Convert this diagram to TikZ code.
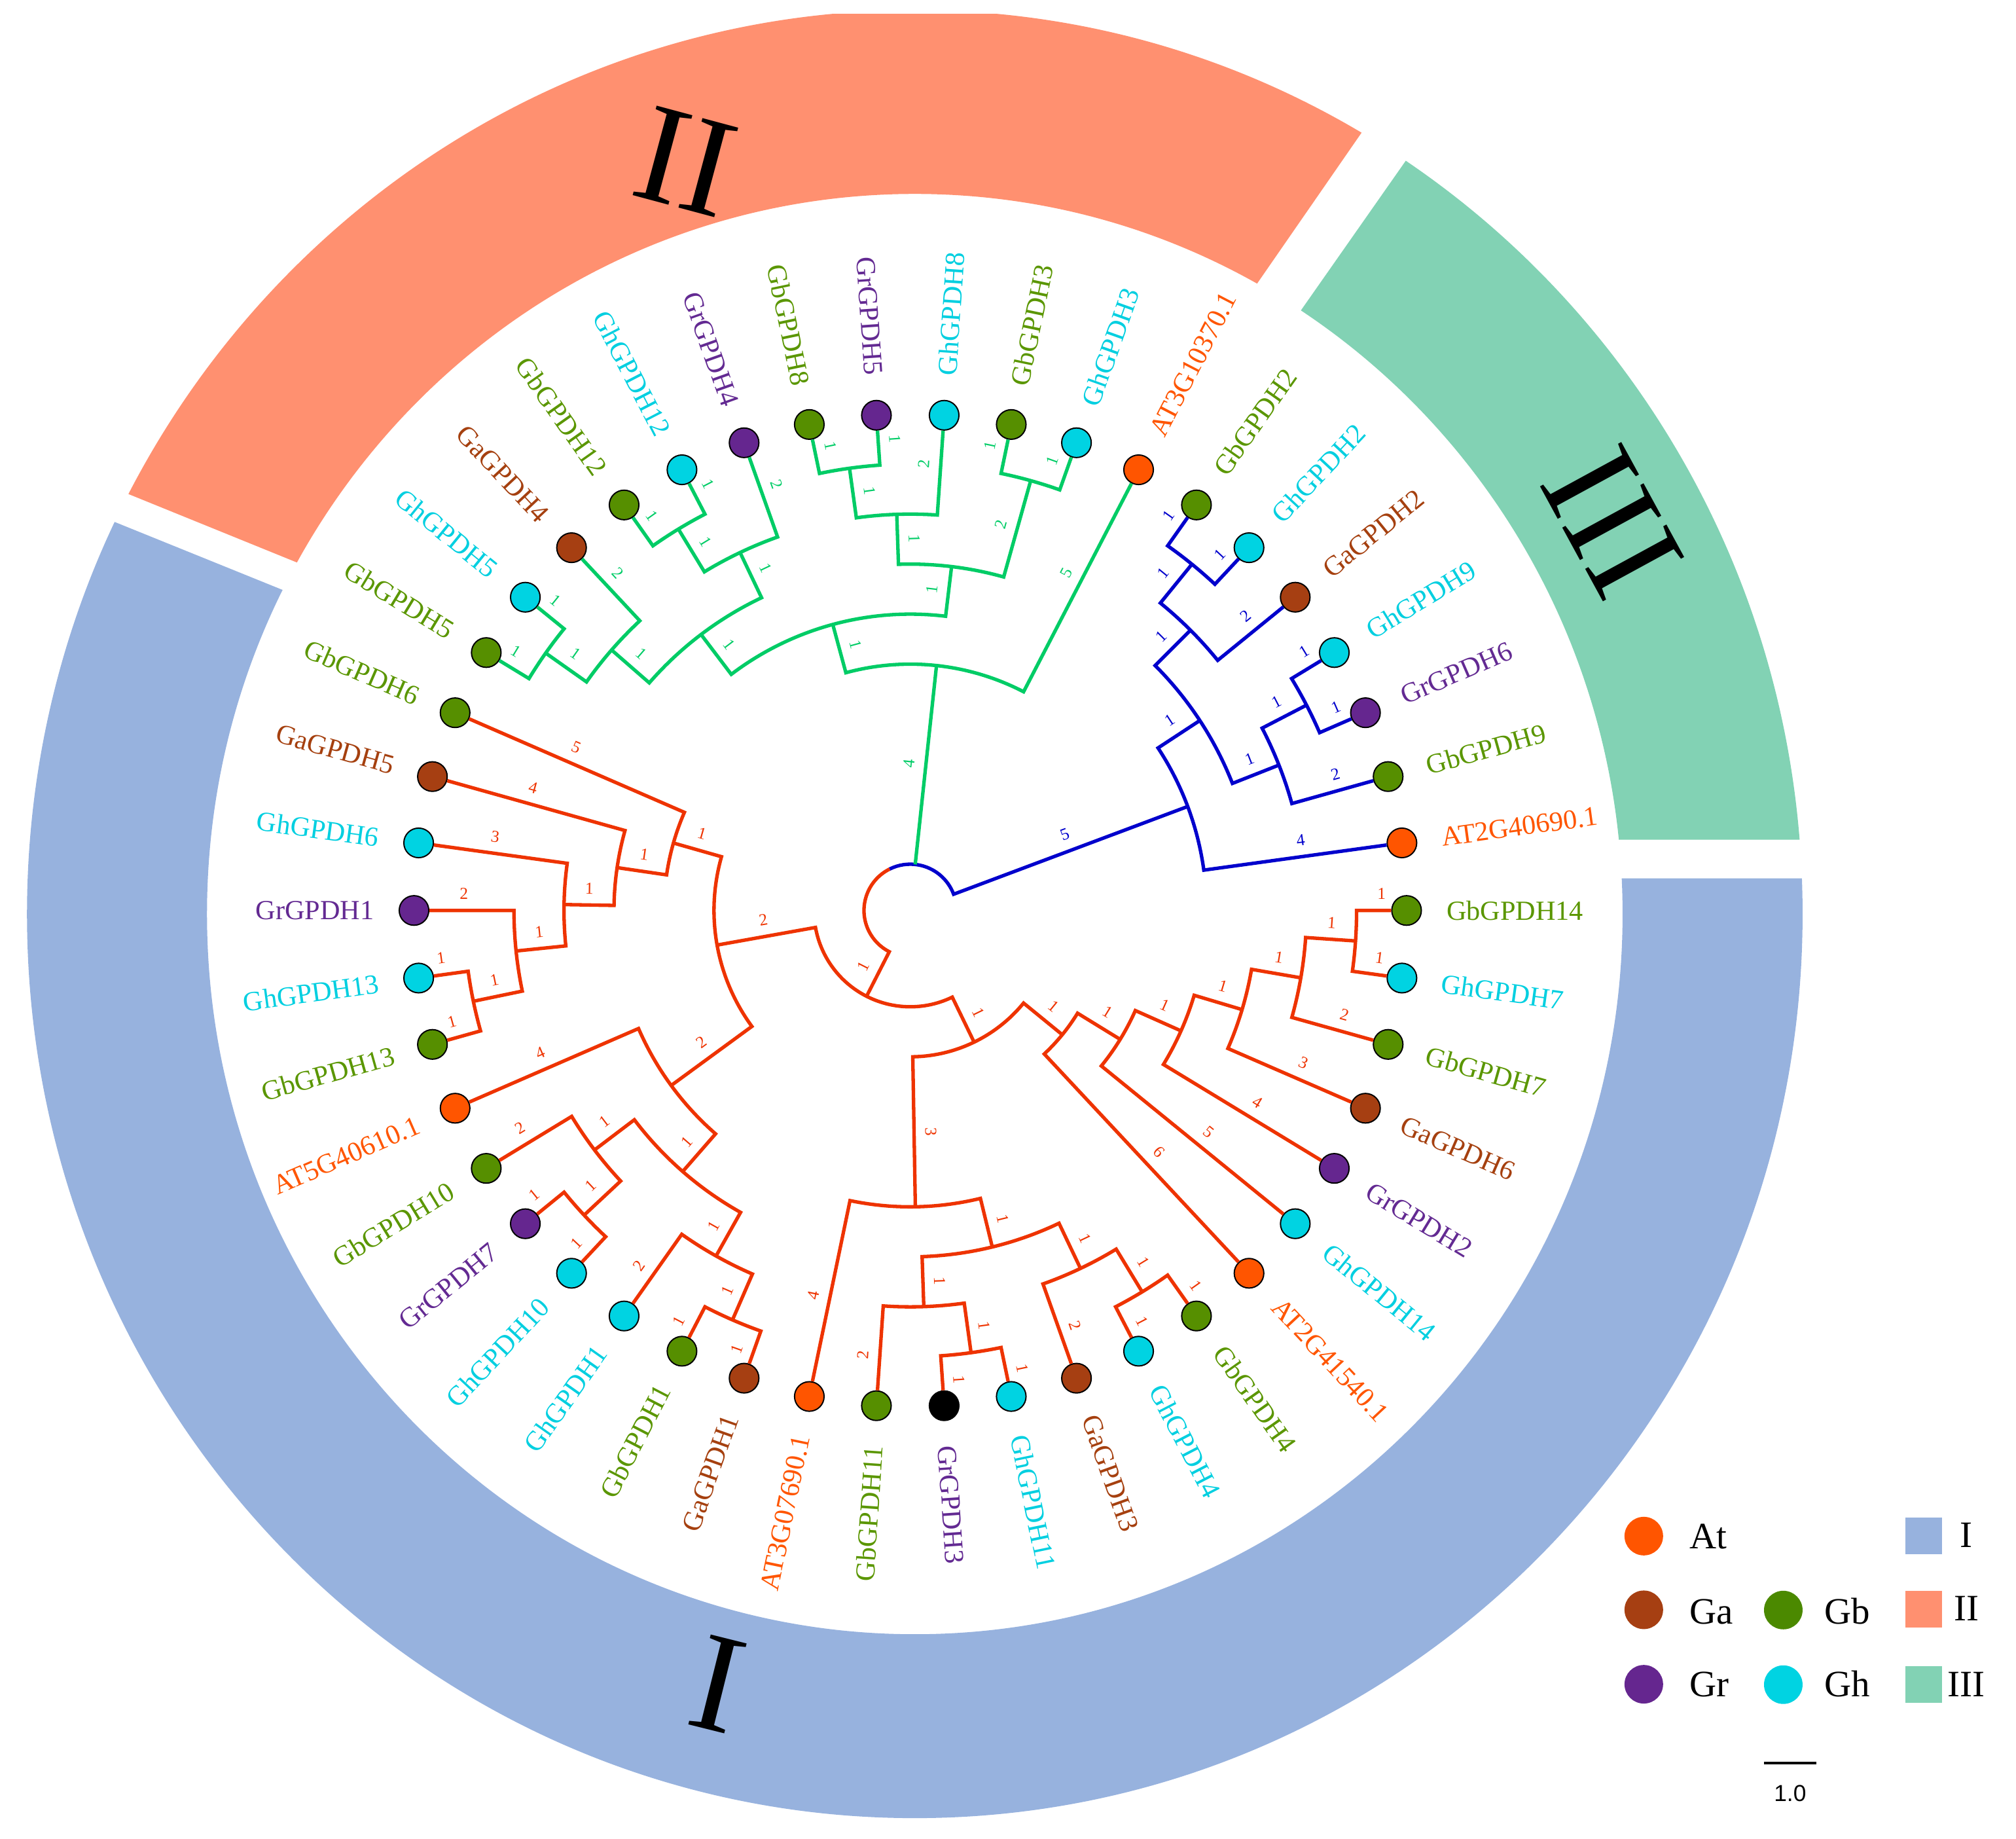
\documentclass[tikz,border=0pt]{standalone}
\usepackage{fontspec}
\setmainfont{Liberation Serif}
\newfontfamily\arialf{Liberation Sans}
\usetikzlibrary{calc}
\definecolor{brR}{HTML}{EE3300}
\definecolor{brG}{HTML}{00CC66}
\definecolor{brB}{HTML}{0000CC}
\definecolor{fAt}{HTML}{FF5500}
\definecolor{fGa}{HTML}{A63F12}
\definecolor{fGb}{HTML}{568F00}
\definecolor{fGr}{HTML}{65268F}
\definecolor{fGh}{HTML}{00D3E2}
\definecolor{fGrK}{HTML}{000000}
\definecolor{tAt}{HTML}{FF5500}
\definecolor{tGa}{HTML}{A5400F}
\definecolor{tGb}{HTML}{5A9600}
\definecolor{tGr}{HTML}{632A92}
\definecolor{tGh}{HTML}{00CFE0}
\definecolor{tGrK}{HTML}{632A92}
\definecolor{ringI}{HTML}{97B2DE}
\definecolor{ringII}{HTML}{FF9070}
\definecolor{ringIII}{HTML}{82D2B4}
\definecolor{kGb}{HTML}{4B8900}
\tikzset{
 br/.style={line width=2.7pt, line join=miter},
 leaf/.style={circle, draw=black, line width=1pt, minimum size=23pt, inner sep=0pt},
 lab/.style={font=\fontsize{21.5}{22}\selectfont, inner sep=0pt},
 bl/.style={font=\fontsize{13}{13}\selectfont, inner sep=0pt},
 ringlab/.style={font=\fontsize{110}{110}\selectfont, inner sep=0pt},
 legtxt/.style={font=\fontsize{29}{29}\selectfont, anchor=base west, inner sep=0pt},
 legdot/.style={circle, minimum size=30pt, inner sep=0pt},
 legsq/.style={minimum size=28.5pt, inner sep=0pt},
}
\newcommand\tn[6]{\draw[br,#1] (#2) -- (#3:#6) arc[start angle=#3, end angle=#5, radius=#6] -- (#4);}
\newcounter{blc}
\newcommand\el[4]{%
 \pgfmathsetmacro\elr{36+38.89*(#3+#4)/2}%
 \pgfmathtruncatemacro\ell{#4-#3}%
 \pgfmathsetmacro\elc{cos(#2)}%
 \ifdim\elc pt>0pt \pgfmathsetmacro\elrot{#2}\pgfmathsetmacro\eloff{#2+90}%
 \else \pgfmathsetmacro\elrot{#2+180}\pgfmathsetmacro\eloff{#2-90}\fi
 \stepcounter{blc}%
 \path (#2:\elr) ++(\eloff:13) node[bl,text=#1,rotate=\elrot,name=bl\theblc] {\ell};}
\begin{document}
\begin{tikzpicture}[x=1pt,y=1pt]
\useasboundingbox (-708,-722) rectangle (860,708);
% ---------- ring ----------
\coordinate (rc) at (3.5,-2.8);
\coordinate (g12a) at (-611,325);
\coordinate (g12b) at (-478,271);
\coordinate (g12c) at (-621,303);
\coordinate (g12d) at (-490,250);
\coordinate (g23a) at (351.6,605.7);
\coordinate (g23b) at (271,489.3);
\coordinate (g23c) at (381.6,577.6);
\coordinate (g23d) at (302,464);
\coordinate (g31a) at (695,55);
\coordinate (g31b) at (554,55);
\coordinate (g31c) at (695,25);
\coordinate (g31d) at (554,25);
\begin{scope}
\clip (-708,-722) rectangle (860,697);
\begin{scope}
\clip ($(g31d)!-1.5!(g31c)$) -- ($(g31d)!5!(g31c)$) -- (-45:2500) -- (-135:2500) -- (180:2500) -- ($(g12d)!5!(g12c)$) -- ($(g12d)!-1.5!(g12c)$) -- (0,0) -- cycle;
\fill[ringI, even odd rule] (rc) ellipse [x radius=690.5pt, y radius=703pt] (rc) ellipse [x radius=550.5pt, y radius=560pt];
\end{scope}
\begin{scope}
\clip ($(g23b)!-1.5!(g23a)$) -- ($(g23b)!5!(g23a)$) -- (100:2500) -- ($(g12b)!5!(g12a)$) -- ($(g12b)!-1.5!(g12a)$) -- (0,0) -- cycle;
\fill[ringII, even odd rule] (rc) ellipse [x radius=690.5pt, y radius=703pt] (rc) ellipse [x radius=550.5pt, y radius=560pt];
\end{scope}
\begin{scope}
\clip ($(g31b)!-1.5!(g31a)$) -- ($(g31b)!5!(g31a)$) -- (30:2500) -- ($(g23d)!5!(g23c)$) -- ($(g23d)!-1.5!(g23c)$) -- (0,0) -- cycle;
\fill[ringIII, even odd rule] (rc) ellipse [x radius=690.5pt, y radius=703pt] (rc) ellipse [x radius=550.5pt, y radius=560pt];
\end{scope}
\end{scope}
\node[ringlab, rotate=-14] (labI) at (-104:620) {I};
\node[ringlab, rotate=-15] (labII) at (-174.6,582.2) {II};
\node[ringlab, rotate=-61.4] (labIII) at (546,302) {III};
% ---------- leaves ----------
\foreach \i/\nm/\spc in {0/GbGPDH14/Gb, 1/GhGPDH7/Gh, 2/GbGPDH7/Gb, 3/GaGPDH6/Ga, 4/GrGPDH2/Gr, 5/GhGPDH14/Gh, 6/AT2G41540.1/At, 7/GbGPDH4/Gb, 8/GhGPDH4/Gh, 9/GaGPDH3/Ga, 10/GhGPDH11/Gh, 11/GrGPDH3/GrK, 12/GbGPDH11/Gb, 13/AT3G07690.1/At, 14/GaGPDH1/Ga, 15/GbGPDH1/Gb, 16/GhGPDH1/Gh, 17/GhGPDH10/Gh, 18/GrGPDH7/Gr, 19/GbGPDH10/Gb, 20/AT5G40610.1/At, 21/GbGPDH13/Gb, 22/GhGPDH13/Gh, 23/GrGPDH1/Gr, 24/GhGPDH6/Gh, 25/GaGPDH5/Ga, 26/GbGPDH6/Gb, 27/GbGPDH5/Gb, 28/GhGPDH5/Gh, 29/GaGPDH4/Ga, 30/GbGPDH12/Gb, 31/GhGPDH12/Gh, 32/GrGPDH4/Gr, 33/GbGPDH8/Gb, 34/GrGPDH5/Gr, 35/GhGPDH8/Gh, 36/GbGPDH3/Gb, 37/GhGPDH3/Gh, 38/AT3G10370.1/At, 39/GbGPDH2/Gb, 40/GhGPDH2/Gh, 41/GaGPDH2/Ga, 42/GhGPDH9/Gh, 43/GrGPDH6/Gr, 44/GbGPDH9/Gb, 45/AT2G40690.1/At}{%
  \pgfmathsetmacro\ang{-360/46*\i}%
  \pgfmathsetmacro\lc{cos(\ang)}%
  \node[leaf, fill=f\spc] (L\i) at (\ang:386) {};
  \ifdim\lc pt>0pt
    \node[lab, text=t\spc, anchor=west, rotate=\ang] (T\i) at (\ang:417) {\nm};
  \else
    \pgfmathsetmacro\angb{\ang+180}%
    \node[lab, text=t\spc, anchor=east, rotate=\angb] (T\i) at (\ang:417) {\nm};
  \fi
}
% ---------- internal nodes ----------
\coordinate (s1) at (-3.913:347.12);
\coordinate (s2) at (-9.783:308.23);
\coordinate (s3) at (-16.630:269.34);
\coordinate (s4) at (-23.967:230.45);
\coordinate (s5) at (-31.549:191.56);
\coordinate (s6) at (-39.253:152.67);
\coordinate (rK) at (-58.696:347.12);
\coordinate (rJ) at (-64.565:308.23);
\coordinate (rI) at (-82.174:347.12);
\coordinate (rH) at (-88.044:308.23);
\coordinate (rG) at (-76.304:269.34);
\coordinate (rE) at (-89.022:230.45);
\coordinate (rD) at (-64.138:113.78);
\coordinate (rQ) at (-113.478:347.12);
\coordinate (rP) at (-119.348:308.23);
\coordinate (rO) at (-136.957:347.12);
\coordinate (rN) at (-142.826:308.23);
\coordinate (rM) at (-131.087:269.34);
\coordinate (rB) at (-143.804:230.45);
\coordinate (r1) at (-168.261:347.12);
\coordinate (r2) at (-174.130:308.23);
\coordinate (r3) at (-180.978:269.34);
\coordinate (r4) at (-188.315:230.45);
\coordinate (r5) at (-195.897:191.56);
\coordinate (rA) at (-169.850:152.67);
\coordinate (rR) at (-116.994:74.89);
\coordinate (g1) at (144.783:347.12);
\coordinate (g2) at (138.913:308.23);
\coordinate (g3) at (121.304:347.12);
\coordinate (g4) at (115.435:308.23);
\coordinate (g5) at (127.174:269.34);
\coordinate (g7) at (97.826:347.12);
\coordinate (g8) at (91.957:308.23);
\coordinate (g9) at (74.348:347.12);
\coordinate (g10) at (83.152:269.34);
\coordinate (g6) at (105.163:230.45);
\coordinate (gR) at (83.886:191.56);
\coordinate (b1) at (50.870:347.12);
\coordinate (b2) at (45.0:308.23);
\coordinate (b3) at (27.391:347.12);
\coordinate (b4) at (21.522:308.23);
\coordinate (b5) at (33.261:269.34);
\coordinate (bR) at (20.543:230.45);
% red clade
\tn{brR}{L0}{0}{L1}{-7.826}{347.12pt}
\tn{brR}{s1}{-3.913}{L2}{-15.652}{308.23pt}
\tn{brR}{s2}{-9.783}{L3}{-23.478}{269.34pt}
\tn{brR}{s3}{-16.630}{L4}{-31.304}{230.45pt}
\tn{brR}{s4}{-23.967}{L5}{-39.130}{191.56pt}
\tn{brR}{s5}{-31.549}{L6}{-46.957}{152.67pt}
\tn{brR}{L7}{-54.783}{L8}{-62.609}{347.12pt}
\tn{brR}{rK}{-58.696}{L9}{-70.435}{308.23pt}
\tn{brR}{L10}{-78.261}{L11}{-86.087}{347.12pt}
\tn{brR}{rI}{-82.174}{L12}{-93.913}{308.23pt}
\tn{brR}{rJ}{-64.565}{rH}{-88.044}{269.34pt}
\tn{brR}{rG}{-76.304}{L13}{-101.739}{230.45pt}
\tn{brR}{s6}{-39.253}{rE}{-89.022}{113.78pt}
\tn{brR}{L14}{-109.565}{L15}{-117.391}{347.12pt}
\tn{brR}{rQ}{-113.478}{L16}{-125.217}{308.23pt}
\tn{brR}{L17}{-133.043}{L18}{-140.870}{347.12pt}
\tn{brR}{rO}{-136.957}{L19}{-148.696}{308.23pt}
\tn{brR}{rP}{-119.348}{rN}{-142.826}{269.34pt}
\tn{brR}{rM}{-131.087}{L20}{-156.522}{230.45pt}
\tn{brR}{L21}{-164.348}{L22}{-172.174}{347.12pt}
\tn{brR}{r1}{-168.261}{L23}{-180}{308.23pt}
\tn{brR}{r2}{-174.130}{L24}{-187.826}{269.34pt}
\tn{brR}{r3}{-180.978}{L25}{-195.652}{230.45pt}
\tn{brR}{r4}{-188.315}{L26}{-203.478}{191.56pt}
\tn{brR}{rB}{-143.804}{r5}{-195.897}{152.67pt}
\tn{brR}{rD}{-64.138}{rA}{-169.850}{74.89pt}
% green clade
\tn{brG}{L27}{148.696}{L28}{140.870}{347.12pt}
\tn{brG}{g1}{144.783}{L29}{133.043}{308.23pt}
\tn{brG}{L30}{125.217}{L31}{117.391}{347.12pt}
\tn{brG}{g3}{121.304}{L32}{109.565}{308.23pt}
\tn{brG}{g2}{138.913}{g4}{115.435}{269.34pt}
\tn{brG}{L33}{101.739}{L34}{93.913}{347.12pt}
\tn{brG}{g7}{97.826}{L35}{86.087}{308.23pt}
\tn{brG}{L36}{78.261}{L37}{70.435}{347.12pt}
\tn{brG}{g8}{91.957}{g9}{74.348}{269.34pt}
\tn{brG}{g5}{127.174}{g10}{83.152}{230.45pt}
\tn{brG}{g6}{105.163}{L38}{62.609}{191.56pt}
% blue clade
\tn{brB}{L39}{54.783}{L40}{46.957}{347.12pt}
\tn{brB}{b1}{50.870}{L41}{39.130}{308.23pt}
\tn{brB}{L42}{31.304}{L43}{23.478}{347.12pt}
\tn{brB}{b3}{27.391}{L44}{15.652}{308.23pt}
\tn{brB}{b2}{45.0}{b4}{21.522}{269.34pt}
\tn{brB}{b5}{33.261}{L45}{7.826}{230.45pt}
% root
\coordinate (root) at (0,0);
\draw[br,brB] (bR) -- (20.543:36) arc[start angle=20.543, end angle=116.6, radius=36pt];
\draw[br,brR] (116.6:36) arc[start angle=116.6, end angle=243.006, radius=36pt] -- (rR);
\draw[br,brG] (83.886:36) -- (gR);
% ---------- branch labels ----------
\el{brR}{0}{8}{9}\el{brR}{-7.826}{8}{9}\el{brR}{-3.913}{7}{8}\el{brR}{-15.652}{7}{9}
\el{brR}{-9.783}{6}{7}\el{brR}{-23.478}{6}{9}\el{brR}{-16.630}{5}{6}\el{brR}{-31.304}{5}{9}
\el{brR}{-23.967}{4}{5}\el{brR}{-39.130}{4}{9}\el{brR}{-31.549}{3}{4}\el{brR}{-46.957}{3}{9}
\el{brR}{-39.253}{2}{3}\el{brR}{-89.022}{2}{5}
\el{brR}{-54.783}{8}{9}\el{brR}{-62.609}{8}{9}\el{brR}{-58.696}{7}{8}\el{brR}{-70.435}{7}{9}
\el{brR}{-64.565}{6}{7}\el{brR}{-78.261}{8}{9}\el{brR}{-86.087}{8}{9}\el{brR}{-82.174}{7}{8}
\el{brR}{-93.913}{7}{9}\el{brR}{-88.044}{6}{7}\el{brR}{-76.304}{5}{6}\el{brR}{-101.739}{5}{9}
\el{brR}{-64.138}{1}{2}
\el{brR}{-109.565}{8}{9}\el{brR}{-117.391}{8}{9}\el{brR}{-113.478}{7}{8}\el{brR}{-125.217}{7}{9}
\el{brR}{-133.043}{8}{9}\el{brR}{-140.870}{8}{9}\el{brR}{-136.957}{7}{8}\el{brR}{-148.696}{7}{9}
\el{brR}{-119.348}{6}{7}\el{brR}{-142.826}{6}{7}\el{brR}{-131.087}{5}{6}\el{brR}{-156.522}{5}{9}
\el{brR}{-143.804}{3}{5}
\el{brR}{-164.348}{8}{9}\el{brR}{-172.174}{8}{9}\el{brR}{-168.261}{7}{8}\el{brR}{-180}{7}{9}
\el{brR}{-174.130}{6}{7}\el{brR}{-187.826}{6}{9}\el{brR}{-180.978}{5}{6}\el{brR}{-195.652}{5}{9}
\el{brR}{-188.315}{4}{5}\el{brR}{-203.478}{4}{9}\el{brR}{-195.897}{3}{4}\el{brR}{-169.850}{1}{3}
\el{brR}{-116.994}{0}{1}
\el{brG}{148.696}{8}{9}\el{brG}{140.870}{8}{9}\el{brG}{144.783}{7}{8}\el{brG}{133.043}{7}{9}
\el{brG}{138.913}{6}{7}\el{brG}{125.217}{8}{9}\el{brG}{117.391}{8}{9}\el{brG}{121.304}{7}{8}
\el{brG}{109.565}{7}{9}\el{brG}{115.435}{6}{7}\el{brG}{127.174}{5}{6}\el{brG}{101.739}{8}{9}
\el{brG}{93.913}{8}{9}\el{brG}{97.826}{7}{8}\el{brG}{86.087}{7}{9}\el{brG}{78.261}{8}{9}
\el{brG}{70.435}{8}{9}\el{brG}{74.348}{6}{8}\el{brG}{91.957}{6}{7}\el{brG}{83.152}{5}{6}
\el{brG}{105.163}{4}{5}\el{brG}{62.609}{4}{9}\el{brG}{83.886}{0}{4}
\el{brB}{54.783}{8}{9}\el{brB}{46.957}{8}{9}\el{brB}{50.870}{7}{8}\el{brB}{39.130}{7}{9}
\el{brB}{31.304}{8}{9}\el{brB}{23.478}{8}{9}\el{brB}{27.391}{7}{8}\el{brB}{15.652}{7}{9}
\el{brB}{45.0}{6}{7}\el{brB}{21.522}{6}{7}\el{brB}{33.261}{5}{6}\el{brB}{7.826}{5}{9}
\el{brB}{20.543}{0}{5}
% ---------- legend ----------
\node[legdot, fill=fAt] (kAt) at (570.5,-486.5) {};
\node[legdot, fill=fGa] (kGa) at (570.5,-543.8) {};
\node[legdot, fill=fGr] (kGr) at (570.5,-601.7) {};
\node[legdot, fill=kGb] (kGbd) at (679,-544) {};
\node[legdot, fill=fGh] (kGh) at (679,-602) {};
\node[legtxt] (xAt) at (606,-496) {At};
\node[legtxt] (xGa) at (606,-555) {Ga};
\node[legtxt] (xGr) at (606,-611.5) {Gr};
\node[legtxt] (xGb) at (711,-555) {Gb};
\node[legtxt] (xGh) at (711,-611.5) {Gh};
\node[legsq, fill=ringI] (qI) at (788.3,-486.2) {};
\node[legsq, fill=ringII] (qII) at (788.3,-543.2) {};
\node[legsq, fill=ringIII] (qIII) at (788.3,-602) {};
\node[legtxt, anchor=base] (xI) at (821.5,-495) {I};
\node[legtxt, anchor=base] (xII) at (821.5,-552) {II};
\node[legtxt, anchor=base] (xIII) at (821.5,-611.5) {III};
\coordinate (sb1) at (664,-663);
\coordinate (sb2) at (704.6,-663);
\draw[line width=2pt] (sb1) -- (sb2);
\node[font=\arialf\fontsize{18}{18}\selectfont, anchor=base, inner sep=0pt] (sbl) at (684.3,-693) {1.0};
\end{tikzpicture}
\end{document}
